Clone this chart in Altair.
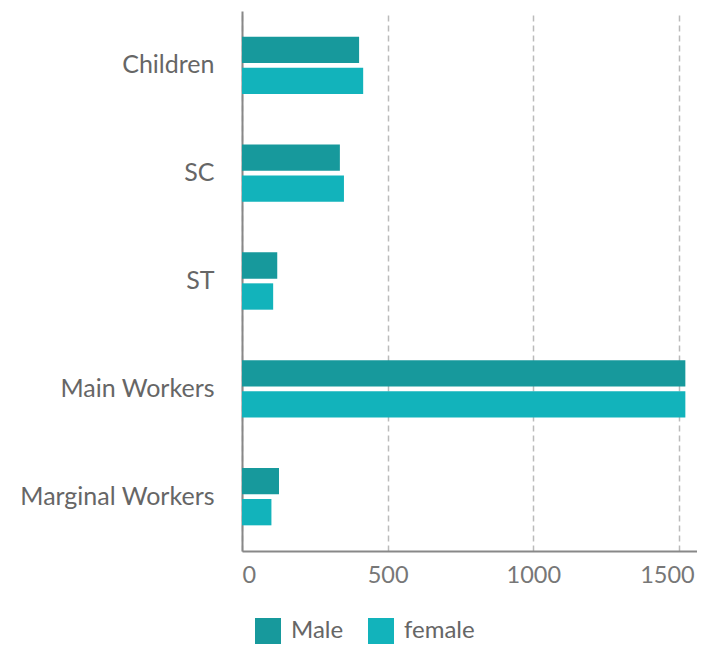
import altair as alt
import pandas as pd

categories = ["Children", "SC", "ST", "Main Workers", "Marginal Workers"]
male = [402, 336, 121, 1522, 127]
female = [416, 350, 107, 1522, 101]
series = ["Male", "female"]
colors = ["#17999C", "#12B3BB"]
ticks = [0, 500, 1000, 1500]

rows = []
for c, m, f in zip(categories, male, female):
    rows.append({"category": c, "gender": "Male", "value": m})
    rows.append({"category": c, "gender": "female", "value": f})
df = pd.DataFrame(rows)

FONT = "Lato"

chart = alt.Chart(df).mark_bar().encode(
    y=alt.Y("category:N", sort=categories, title=None,
            scale=alt.Scale(paddingInner=0.468, paddingOuter=0.238),
            axis=alt.Axis(labelFont=FONT, labelFontSize=25, labelColor="#666666",
                          labelPadding=28, labelLimit=400, ticks=False,
                          domainColor="#888888", domainWidth=2, grid=False)),
    yOffset=alt.YOffset("gender:N", sort=series,
                        scale=alt.Scale(paddingInner=0.15)),
    x=alt.X("value:Q", title=None,
            scale=alt.Scale(domain=[0, 1562], nice=False),
            axis=alt.Axis(values=ticks, format="d", labelFont=FONT, labelFontSize=23.5,
                          labelColor="#777777", labelPadding=12, ticks=False,
                          labelOffset={"condition": {"test": "datum.value == 1500", "value": -12},
                                       "value": 0},
                          domainColor="#888888", domainWidth=2,
                          grid=True, gridColor="#BBBBBB", gridDash=[6, 4],
                          gridWidth=1.5)),
    color=alt.Color("gender:N", sort=series, title=None,
                    scale=alt.Scale(domain=series, range=colors),
                    legend=alt.Legend(orient="none", legendX=13, legendY=607,
                                      direction="horizontal", symbolType="square",
                                      symbolSize=676, symbolStrokeWidth=0,
                                      labelFont=FONT, labelFontSize=24,
                                      labelColor="#666666", labelOffset=10,
                                      columnPadding=24, padding=0)),
).properties(
    width=455,
    height=540,
    autosize=alt.AutoSizeParams(type="none"),
    padding={"left": 234, "top": 3, "right": 0, "bottom": 94},
).configure_view(stroke=None)

chart.save("out.html", embed_options={"renderer": "svg", "actions": False})
